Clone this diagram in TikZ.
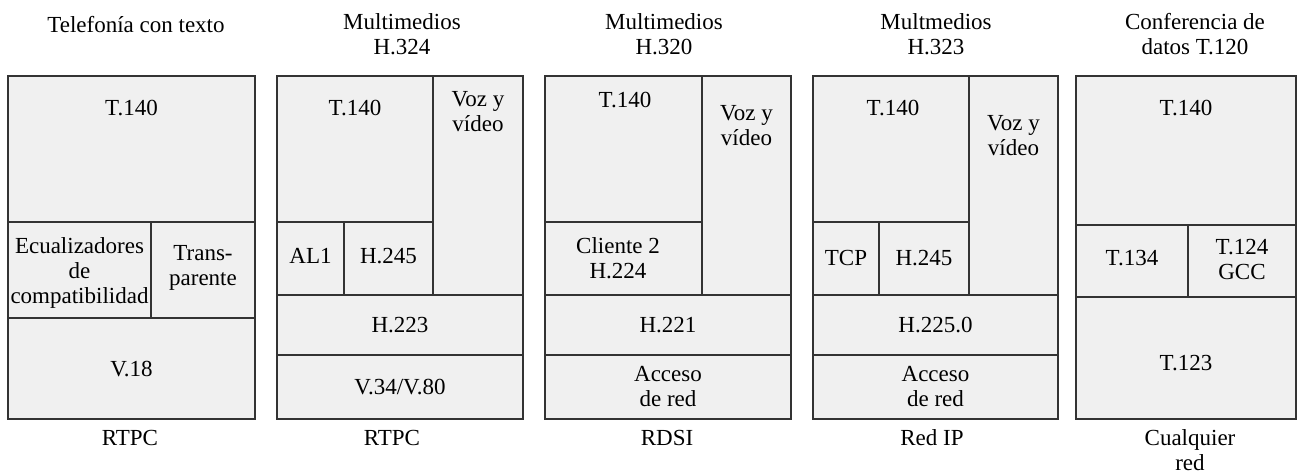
\documentclass[tikz,border=0pt]{standalone}
\usepackage{fontspec}
\setmainfont{LiberationSerif}[Extension=.ttf, UprightFont=*-Regular, BoldFont=*-Bold]
\begin{document}
\begin{tikzpicture}[x=1pt,y=-1pt,
  cellbox/.style={fill=black!6, draw=black!80, line width=1.3pt},
  lbl/.style={font=\rmfamily\fontsize{23}{25}\selectfont, inner sep=0pt, align=center, text=black}]
\useasboundingbox (0,0) rectangle (1297,473);

% ---------- Column 1: Telefonia con texto ----------
\path[cellbox] (8,76) rectangle (255,222);
\path[cellbox] (8,222) rectangle (151,318);
\path[cellbox] (151,222) rectangle (255,318);
\path[cellbox] (8,318) rectangle (255,419);
\node[lbl] (t1) at (136,25) {Telefonía con texto};
\node[lbl] (c1a) at (131.5,108) {T.140};
\node[lbl] (c1b) at (79.5,273) {Ecualizadores\\de\\compatibilidad};
\node[lbl] (c1c) at (203,268) {Trans-\\parente};
\node[lbl] (c1d) at (131.5,369) {V.18};
\node[lbl] (b1) at (130,438) {RTPC};

% ---------- Column 2: Multimedios H.324 ----------
\path[cellbox] (277,76) rectangle (433,222);
\path[cellbox] (433,76) rectangle (523,295);
\path[cellbox] (277,222) rectangle (344,295);
\path[cellbox] (344,222) rectangle (433,295);
\path[cellbox] (277,295) rectangle (523,355);
\path[cellbox] (277,355) rectangle (523,419);
\node[lbl] (t2) at (402,34) {Multimedios\\H.324};
\node[lbl] (c2a) at (355,108) {T.140};
\node[lbl] (c2v) at (478,112) {Voz y\\vídeo};
\node[lbl] (c2b) at (310.5,256) {AL1};
\node[lbl] (c2c) at (388.5,256) {H.245};
\node[lbl] (c2d) at (400,325) {H.223};
\node[lbl] (c2e) at (400,387) {V.34/V.80};
\node[lbl] (b2) at (392,438) {RTPC};

% ---------- Column 3: Multimedios H.320 ----------
\path[cellbox] (545,76) rectangle (702,222);
\path[cellbox] (702,76) rectangle (791,295);
\path[cellbox] (545,222) rectangle (702,295);
\path[cellbox] (545,295) rectangle (791,355);
\path[cellbox] (545,355) rectangle (791,419);
\node[lbl] (t3) at (664,34) {Multimedios\\H.320};
\node[lbl] (c3a) at (625,100) {T.140};
\node[lbl] (c3v) at (746.5,126) {Voz y\\vídeo};
\node[lbl] (c3b) at (618,258) {Cliente 2\\H.224};
\node[lbl] (c3c) at (668,325) {H.221};
\node[lbl] (c3d) at (668,387) {Acceso\\de red};
\node[lbl] (b3) at (667,438) {RDSI};

% ---------- Column 4: Multmedios H.323 ----------
\path[cellbox] (813,76) rectangle (969,222);
\path[cellbox] (969,76) rectangle (1058,295);
\path[cellbox] (813,222) rectangle (879,295);
\path[cellbox] (879,222) rectangle (969,295);
\path[cellbox] (813,295) rectangle (1058,355);
\path[cellbox] (813,355) rectangle (1058,419);
\node[lbl] (t4) at (936,34) {Multmedios\\H.323};
\node[lbl] (c4a) at (893,108) {T.140};
\node[lbl] (c4v) at (1013.5,136) {Voz y\\vídeo};
\node[lbl] (c4b) at (846,258) {TCP};
\node[lbl] (c4c) at (924,258) {H.245};
\node[lbl] (c4d) at (935.5,325) {H.225.0};
\node[lbl] (c4e) at (935.5,387) {Acceso\\de red};
\node[lbl] (b4) at (932,438) {Red IP};

% ---------- Column 5: Conferencia de datos T.120 ----------
\path[cellbox] (1076,76) rectangle (1296,225);
\path[cellbox] (1076,225) rectangle (1188,297);
\path[cellbox] (1188,225) rectangle (1296,297);
\path[cellbox] (1076,297) rectangle (1296,419);
\node[lbl] (t5) at (1195,34) {Conferencia de\\datos T.120};
\node[lbl] (c5a) at (1186,108) {T.140};
\node[lbl] (c5b) at (1132,258) {T.134};
\node[lbl] (c5c) at (1242,259) {T.124\\GCC};
\node[lbl] (c5d) at (1186,363) {T.123};
\node[lbl] (b5) at (1190,450) {Cualquier\\red};
\end{tikzpicture}
\end{document}
